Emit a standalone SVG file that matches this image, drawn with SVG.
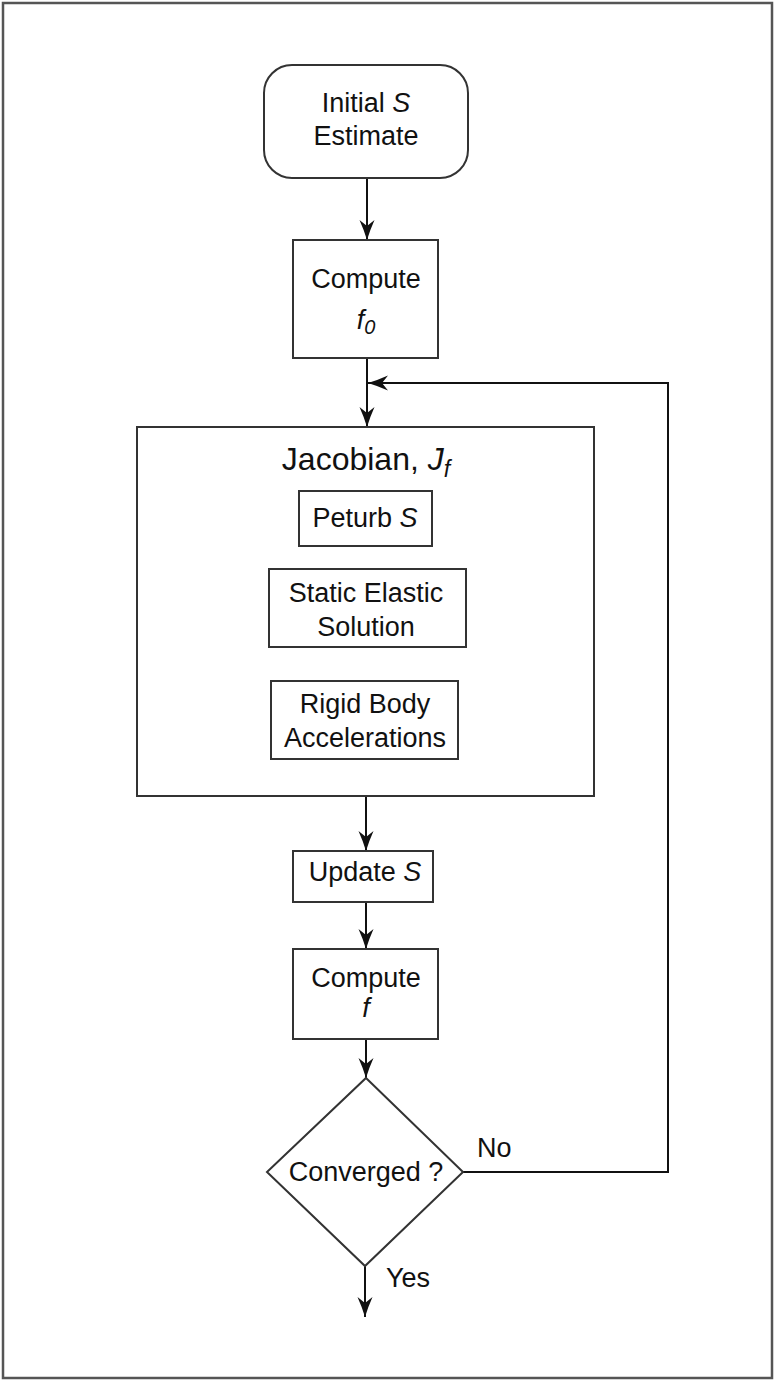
<svg xmlns="http://www.w3.org/2000/svg" width="775" height="1381" viewBox="0 0 775 1381">
<style>
  .box{fill:#fff;stroke:#333;stroke-width:2}
  .frame{fill:#fff;stroke:#555;stroke-width:2.5}
  .t{font-family:"Liberation Sans",Arial,sans-serif;font-size:27px;fill:#111;text-anchor:middle}
  .title{font-size:32px}
  .lbl{font-family:"Liberation Sans",Arial,sans-serif;font-size:27px;fill:#111}
  .i{font-style:italic}
  .c{fill:none;stroke:#111;stroke-width:2}
</style>
<defs>
  <marker id="ah" markerUnits="userSpaceOnUse" markerWidth="22" markerHeight="18" refX="20" refY="8" orient="auto">
    <path d="M0,0.5 Q10,5 20,8 Q10,11 0,15.5 L6,8 Z" fill="#111"/>
  </marker>
</defs>
<rect class="frame" x="3" y="3" width="769" height="1375"/>

<g id="connectors">
  <line class="c" x1="367" y1="178" x2="367" y2="240" marker-end="url(#ah)"/>
  <line class="c" x1="367" y1="358" x2="367" y2="427" marker-end="url(#ah)"/>
  <polyline class="c" points="463,1172 668,1172 668,383 368,383" marker-end="url(#ah)"/>
  <line class="c" x1="366" y1="796" x2="366" y2="851" marker-end="url(#ah)"/>
  <line class="c" x1="366" y1="902" x2="366" y2="949" marker-end="url(#ah)"/>
  <line class="c" x1="366" y1="1039" x2="366" y2="1078" marker-end="url(#ah)"/>
  <line class="c" x1="365" y1="1266" x2="365" y2="1317" marker-end="url(#ah)"/>
  <text class="lbl" x="477" y="1157">No</text>
  <text class="lbl" x="386" y="1287">Yes</text>
</g>

<g id="initial">
  <rect class="box" x="264" y="65" width="204" height="113" rx="28"/>
  <text class="t" x="366" y="112">Initial <tspan class="i">S</tspan></text>
  <text class="t" x="366" y="145">Estimate</text>
</g>

<g id="compute-f0">
  <rect class="box" x="293" y="240" width="145" height="118"/>
  <text class="t" x="366" y="288">Compute</text>
  <text class="t i" x="366" y="329">f<tspan font-size="20" dy="5">0</tspan></text>
</g>

<g id="jacobian">
  <rect class="box" x="137" y="427" width="457" height="369"/>
  <text class="t title" x="366" y="470">Jacobian, <tspan class="i">J</tspan><tspan class="i" font-size="23" dy="7">f</tspan></text>
</g>

<g id="peturb">
  <rect class="box" x="299" y="491" width="133" height="55"/>
  <text class="t" x="365" y="527">Peturb <tspan class="i">S</tspan></text>
</g>

<g id="static">
  <rect class="box" x="269" y="569" width="197" height="78"/>
  <text class="t" x="366" y="602">Static Elastic</text>
  <text class="t" x="366" y="636">Solution</text>
</g>

<g id="rigid">
  <rect class="box" x="271" y="681" width="187" height="78"/>
  <text class="t" x="365" y="713">Rigid Body</text>
  <text class="t" x="365" y="747">Accelerations</text>
</g>

<g id="update">
  <rect class="box" x="293" y="851" width="140" height="51"/>
  <text class="t" x="365" y="881">Update <tspan class="i">S</tspan></text>
</g>

<g id="compute-f">
  <rect class="box" x="293" y="949" width="145" height="90"/>
  <text class="t" x="366" y="987">Compute</text>
  <text class="t i" x="366" y="1017">f</text>
</g>

<g id="converged">
  <polygon class="box" points="366,1078 463,1172 365,1266 267,1172"/>
  <text class="t" x="366" y="1181">Converged ?</text>
</g>
</svg>
